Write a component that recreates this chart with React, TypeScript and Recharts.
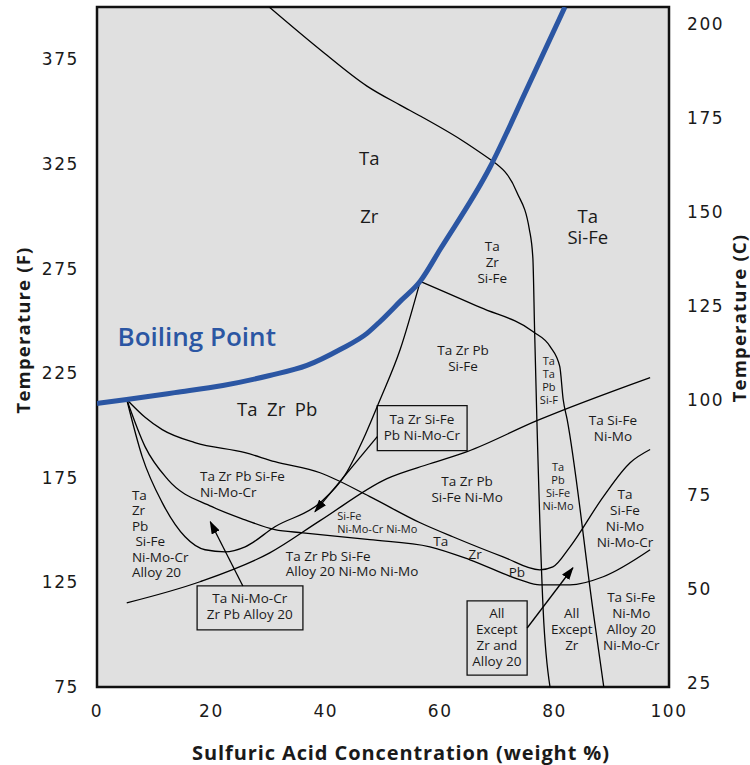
import React from 'react';
import {
  ComposedChart,
  Line,
  Scatter,
  XAxis,
  YAxis,
  CartesianGrid,
  ReferenceArea,
} from 'recharts';

// Axis ticks
const concentrationTicks = [0, 20, 40, 60, 80, 100];
const fahrenheitTicks = [75, 125, 175, 225, 275, 325, 375];
const celsiusTicks = [25, 50, 75, 100, 125, 150, 175, 200];

// Boiling point of sulfuric acid (weight %, deg F)
const boilingPoint = [
  { x: 0, f: 210.5 },
  { x: 5.2, f: 212.4 },
  { x: 13.6, f: 215.7 },
  { x: 22.0, f: 219.1 },
  { x: 30.2, f: 223.9 },
  { x: 36.7, f: 228.7 },
  { x: 42.5, f: 236.3 },
  { x: 47.2, f: 244.0 },
  { x: 49.5, f: 249.7 },
  { x: 53.0, f: 259.3 },
  { x: 56.5, f: 268.9 },
  { x: 60.0, f: 284.2 },
  { x: 68.7, f: 323.4 },
  { x: 75.3, f: 361.7 },
  { x: 81.8, f: 400 },
];

// Iso-corrosion boundaries
const upperBoundaryTop = [
  { x: 30.1, f: 400 },
  { x: 39.5, f: 378.5 },
  { x: 47.2, f: 362.2 },
  { x: 53.0, f: 353.1 },
  { x: 56.5, f: 347.9 },
  { x: 63.5, f: 336.8 },
  { x: 69.2, f: 326.3 },
];

const upperBoundaryBottom = [
  { x: 69.2, f: 326.3 },
  { x: 73.4, f: 311.5 },
  { x: 75.6, f: 293.5 },
  { x: 76.2, f: 280.0 },
  { x: 76.5, f: 245.9 },
  { x: 76.9, f: 202.8 },
  { x: 78.0, f: 111.9 },
  { x: 79.2, f: 75 },
];

const siFeBoundary = [
  { x: 56.5, f: 268.9 },
  { x: 67.0, f: 256.4 },
  { x: 76.2, f: 244.9 },
  { x: 79.2, f: 237.8 },
  { x: 80.9, f: 228.2 },
  { x: 81.5, f: 212.4 },
  { x: 82.2, f: 202.8 },
  { x: 86.7, f: 111.9 },
  { x: 88.6, f: 75 },
];

const zrPbLoop = [
  { x: 5.2, f: 212.4 },
  { x: 7.9, f: 185.1 },
  { x: 11.4, f: 163.1 },
  { x: 15.4, f: 146.8 },
  { x: 18.9, f: 140.6 },
  { x: 22.4, f: 139.6 },
  { x: 25.9, f: 142.0 },
  { x: 31.1, f: 151.6 },
  { x: 39.0, f: 163.1 },
  { x: 43.4, f: 176.5 },
  { x: 46.9, f: 195.6 },
  { x: 49.5, f: 212.4 },
  { x: 53.0, f: 236.3 },
  { x: 56.5, f: 268.9 },
];

const niMoCrUpper = [
  { x: 5.2, f: 212.4 },
  { x: 8.4, f: 203.9 },
  { x: 11.4, f: 198.0 },
  { x: 17.1, f: 191.8 },
  { x: 25.9, f: 187.0 },
  { x: 31.1, f: 182.7 },
  { x: 39.0, f: 177.4 },
  { x: 47.7, f: 166.0 },
  { x: 56.5, f: 153.5 },
  { x: 62.2, f: 146.8 },
  { x: 71.0, f: 137.2 },
  { x: 77.4, f: 131.0 },
  { x: 79.7, f: 132.4 },
  { x: 82.7, f: 142.0 },
  { x: 88.5, f: 165.9 },
  { x: 93.2, f: 182.2 },
  { x: 96.7, f: 188.5 },
];

const niMoCrLower = [
  { x: 5.2, f: 212.4 },
  { x: 8.4, f: 189.9 },
  { x: 12.4, f: 174.1 },
  { x: 20.1, f: 161.2 },
  { x: 25.9, f: 154.9 },
  { x: 31.1, f: 150.2 },
  { x: 36.0, f: 148.7 },
  { x: 47.7, f: 145.4 },
  { x: 58.2, f: 142.0 },
  { x: 65.2, f: 135.8 },
  { x: 74.0, f: 126.2 },
  { x: 77.4, f: 123.8 },
  { x: 82.7, f: 123.8 },
  { x: 88.5, f: 127.7 },
  { x: 96.7, f: 140.6 },
];

const alloy20Boundary = [
  { x: 5.2, f: 115.2 },
  { x: 18.0, f: 125.3 },
  { x: 30.2, f: 139.1 },
  { x: 39.0, f: 154.5 },
  { x: 50.7, f: 174.6 },
  { x: 58.2, f: 181.7 },
  { x: 64.7, f: 187.5 },
  { x: 76.9, f: 202.3 },
  { x: 96.7, f: 222.9 },
];

const boundaries = [
  upperBoundaryTop,
  upperBoundaryBottom,
  siFeBoundary,
  zrPbLoop,
  niMoCrUpper,
  niMoCrLower,
  alloy20Boundary,
];

// Region labels, anchored at (x, f)
const largeLabels = [
  { x: 47.6, f: 327.8, lines: ['Ta'] },
  { x: 47.6, f: 300.0, lines: ['Zr'] },
  { x: 85.8, f: 294.7, lines: ['Ta', 'Si-Fe'] },
  { x: 31.5, f: 207.6, lines: ['Ta  Zr  Pb'] },
];

const mediumLabels = [
  { x: 69.1, f: 278.0, lines: ['Ta', 'Zr', 'Si-Fe'] },
  { x: 64.0, f: 232.0, lines: ['Ta Zr Pb', 'Si-Fe'] },
  { x: 90.2, f: 198.5, lines: ['Ta Si-Fe', 'Ni-Mo'] },
  { x: 64.7, f: 169.5, lines: ['Ta Zr Pb', 'Si-Fe Ni-Mo'] },
  { x: 92.3, f: 155.9, lines: ['Ta', 'Si-Fe', 'Ni-Mo', 'Ni-Mo-Cr'] },
  { x: 93.4, f: 106.6, lines: ['Ta Si-Fe', 'Ni-Mo', 'Alloy 20', 'Ni-Mo-Cr'] },
  { x: 83.0, f: 102.8, lines: ['All', 'Except', 'Zr'] },
  { x: 69.9, f: 98.9, lines: ['All', 'Except', 'Zr and', 'Alloy 20'] },
  { x: 60.1, f: 144.9, lines: ['Ta'] },
  { x: 66.1, f: 138.7, lines: ['Zr'] },
  { x: 73.4, f: 130.1, lines: ['Pb'] },
  { x: 56.8, f: 199.2, lines: ['Ta Zr Si-Fe', 'Pb Ni-Mo-Cr'] },
  { x: 26.7, f: 113.8, lines: ['Ta Ni-Mo-Cr', 'Zr Pb Alloy 20'] },
];

const leftLabels = [
  { x: 18.0, f: 171.9, lines: ['Ta Zr Pb Si-Fe', 'Ni-Mo-Cr'] },
  { x: 6.1, f: 148.3, lines: ['Ta', 'Zr', 'Pb', ' Si-Fe', 'Ni-Mo-Cr', 'Alloy 20'] },
  { x: 33.0, f: 133.9, lines: ['Ta Zr Pb Si-Fe', 'Alloy 20 Ni-Mo Ni-Mo'] },
];

const smallLabels = [
  { x: 79.0, f: 221.7, lines: ['Ta', 'Ta', 'Pb', 'Si-F'] },
  { x: 80.6, f: 170.7, lines: ['Ta', 'Pb', 'Si-Fe', 'Ni-Mo'] },
];

const smallLeftLabels = [{ x: 42.0, f: 153.5, lines: ['Si-Fe', 'Ni-Mo-Cr Ni-Mo'] }];

const curveLabels = [{ x: 3.6, f: 242.3, lines: ['Boiling Point'] }];

// Callout boxes and their arrows
const calloutBoxes = [
  { x1: 49.0, x2: 64.7, f1: 188.0, f2: 209.5 },
  { x1: 17.5, x2: 36.0, f1: 102.3, f2: 123.3 },
  { x1: 64.7, x2: 75.2, f1: 80.7, f2: 116.2 },
];

const calloutArrows = [
  [
    { x: 49.0, f: 194.7 },
    { x: 38.1, f: 158.8 },
  ],
  [
    { x: 25.5, f: 123.3 },
    { x: 19.8, f: 154.0 },
  ],
  [
    { x: 75.2, f: 103.2 },
    { x: 83.2, f: 132.0 },
  ],
];

const LABEL_FONT = '"Open Sans", "Noto Sans", sans-serif';
const TICK_FONT = '"DejaVu Sans", sans-serif';
const BLUE = '#2b56a3';
const PLOT_BG = '#e0e0e0';
const INK = '#1a1a1a';

const tickStyle = {
  fill: INK,
  fontSize: 17,
  fontFamily: TICK_FONT,
  letterSpacing: 1.6,
};

const makeLabel = (
  fontSize: number,
  lineHeight: number,
  anchor: 'start' | 'middle',
  color = INK,
  weight = 400,
) =>
  (props: any) => {
    const { cx, cy, payload } = props;
    const n = payload.lines.length;
    return (
      <text
        x={cx}
        y={cy}
        textAnchor={anchor}
        fontFamily={LABEL_FONT}
        fontSize={fontSize}
        fontWeight={weight}
        fill={color}
        style={{ whiteSpace: 'pre' }}
      >
        {payload.lines.map((line: string, i: number) => (
          <tspan key={i} x={cx} y={cy + (i - (n - 1) / 2) * lineHeight} dy="0.36em">
            {line}
          </tspan>
        ))}
      </text>
    );
  };

const yTitle = (text: string, dxFromLeft: number, dy: number) =>
  (props: any) => {
    const { x, y, height } = props.viewBox;
    const cx = x + dxFromLeft;
    const cy = y + height / 2 + dy;
    return (
      <text
        x={cx}
        y={cy}
        textAnchor="middle"
        dominantBaseline="central"
        transform={`rotate(-90, ${cx}, ${cy})`}
        fontFamily={LABEL_FONT}
        fontWeight={700}
        fontSize={18.5}
        letterSpacing={1.2}
        fill={INK}
      >
        {text}
      </text>
    );
  };

const xTitle = (props: any) => {
  const { x, y, width } = props.viewBox;
  return (
    <text
      x={x + width / 2 + 18}
      y={y + 65}
      textAnchor="middle"
      dominantBaseline="central"
      fontFamily={LABEL_FONT}
      fontWeight={700}
      fontSize={20}
      letterSpacing={0.9}
      fill={INK}
    >
      Sulfuric Acid Concentration (weight %)
    </text>
  );
};

export default function App() {
  return (
    <div style={{ position: 'absolute', left: 0, top: 0, width: 750, height: 765, background: '#fff' }}>
      <ComposedChart width={750} height={765} margin={{ top: 7, right: 0, bottom: 0, left: 0 }}>
        <defs>
          <marker
            id="arrowHead"
            viewBox="0 0 13 9"
            refX="12"
            refY="4.5"
            markerWidth="13"
            markerHeight="9"
            markerUnits="userSpaceOnUse"
            orient="auto"
          >
            <path d="M0,0 L13,4.5 L0,9 Z" fill="#000" />
          </marker>
        </defs>
        <CartesianGrid fill={PLOT_BG} horizontal={false} vertical={false} />
        <XAxis
          dataKey="x"
          type="number"
          domain={[0, 100]}
          ticks={concentrationTicks}
          interval={0}
          height={78}
          axisLine={false}
          tickLine={false}
          tickSize={0}
          tickMargin={18}
          tick={tickStyle}
          allowDataOverflow
          label={{ content: xTitle }}
        />
        <YAxis
          dataKey="f"
          type="number"
          domain={[75, 400]}
          ticks={fahrenheitTicks}
          interval={0}
          width={97}
          axisLine={false}
          tickLine={false}
          tickSize={0}
          tickMargin={18}
          tick={tickStyle}
          allowDataOverflow
          label={{ content: yTitle('Temperature (F)', 22, -17) }}
        />
        <YAxis
          yAxisId="c"
          orientation="right"
          type="number"
          domain={[23.9, 204.4]}
          ticks={celsiusTicks}
          interval={0}
          width={81}
          axisLine={false}
          tickLine={false}
          tickSize={0}
          tickMargin={18}
          tick={tickStyle}
          allowDataOverflow
          label={{ content: yTitle('Temperature (C)', 69, -29) }}
        />

        {calloutBoxes.map((b, i) => (
          <ReferenceArea
            key={`box-${i}`}
            x1={b.x1}
            x2={b.x2}
            y1={b.f1}
            y2={b.f2}
            fill={PLOT_BG}
            fillOpacity={1}
            stroke="#111"
            strokeWidth={1.3}
          />
        ))}

        {boundaries.map((d, i) => (
          <Line
            key={`boundary-${i}`}
            data={d}
            dataKey="f"
            type="monotone"
            stroke="#000"
            strokeWidth={1.3}
            dot={false}
            activeDot={false}
            isAnimationActive={false}
          />
        ))}

        {calloutArrows.map((d, i) => (
          <Line
            key={`arrow-${i}`}
            data={d}
            dataKey="f"
            type="linear"
            stroke="#000"
            strokeWidth={1.3}
            dot={false}
            activeDot={false}
            markerEnd="url(#arrowHead)"
            isAnimationActive={false}
          />
        ))}

        <Line
          data={boilingPoint}
          dataKey="f"
          type="monotone"
          stroke={BLUE}
          strokeWidth={5}
          dot={false}
          activeDot={false}
          isAnimationActive={false}
        />

        <Scatter data={largeLabels} dataKey="f" shape={makeLabel(18.5, 21, 'middle')} isAnimationActive={false} />
        <Scatter data={mediumLabels} dataKey="f" shape={makeLabel(13.5, 16, 'middle')} isAnimationActive={false} />
        <Scatter data={leftLabels} dataKey="f" shape={makeLabel(13.5, 15.5, 'start')} isAnimationActive={false} />
        <Scatter data={smallLabels} dataKey="f" shape={makeLabel(11, 13, 'middle')} isAnimationActive={false} />
        <Scatter data={smallLeftLabels} dataKey="f" shape={makeLabel(11, 12.6, 'start')} isAnimationActive={false} />
        <Scatter
          data={curveLabels}
          dataKey="f"
          shape={makeLabel(26, 30, 'start', BLUE, 600)}
          isAnimationActive={false}
        />

        <ReferenceArea
          x1={0}
          x2={100}
          y1={75}
          y2={400}
          fill="none"
          stroke="#111"
          strokeWidth={2.5}
          ifOverflow="visible"
        />
      </ComposedChart>
    </div>
  );
}
